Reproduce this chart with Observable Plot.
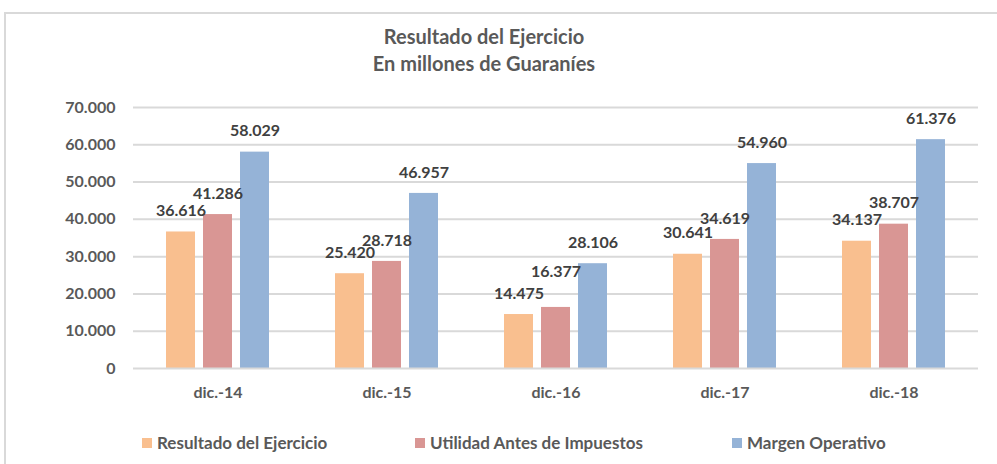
<!DOCTYPE html>
<html>
<head>
<meta charset="utf-8">
<script src="https://cdn.jsdelivr.net/npm/d3@7"></script>
<script src="https://cdn.jsdelivr.net/npm/@observablehq/plot@0.6"></script>
<style>
  html, body { margin: 0; padding: 0; background: #fff; overflow: hidden; width: 997px; height: 464px; }
  body { position: relative; font-family: Lato, "Open Sans", sans-serif; }
  #frame { position: absolute; left: 4px; top: 12px; width: 1100px; height: 500px; border: 2px solid #d9d9d9; box-sizing: border-box; }
  #title { position: absolute; left: 0; top: 23px; width: 968px; text-align: center; font-weight: bold; font-size: 20px; line-height: 27px; color: #595959; }
  #chart { position: absolute; left: 0; top: 80px; }
  .leg { position: absolute; top: 432px; font-size: 17px; font-weight: bold; color: #595959; white-space: nowrap; line-height: 22px; }
  .leg i { display: inline-block; width: 10px; height: 10px; margin-right: 5px; vertical-align: 1px; }
</style>
</head>
<body>
<div id="frame"></div>
<div id="title">Resultado del Ejercicio<br>En millones de Guaraníes</div>
<div id="chart"></div>
<div id="legend"></div>
<script>
const categories = ["dic.-14", "dic.-15", "dic.-16", "dic.-17", "dic.-18"];
const series = ["Resultado del Ejercicio", "Utilidad Antes de Impuestos", "Margen Operativo"];
const resultado = [36616, 25420, 14475, 30641, 34137];
const utilidad = [41286, 28718, 16377, 34619, 38707];
const margen = [58029, 46957, 28106, 54960, 61376];
const yTicks = [0, 10000, 20000, 30000, 40000, 50000, 60000, 70000];
const colors = ["#F9BF8F", "#D99694", "#95B3D7"];
const legendLeft = [142, 415, 732];

const values = [resultado, utilidad, margen];
const data = categories.flatMap((c, i) => series.map((s, j) => ({
  cat: c, series: s, value: values[j][i],
  // label collides with the label of the bar to its left (Excel lifts it)
  lifted: j > 0 && Math.abs(values[j][i] - values[j - 1][i]) < 2500
})));
const fmt = d => d3.format(",")(d).replace(/,/g, ".");
const labelOpts = {fx: "cat", x: "series", y: "value", text: d => fmt(d.value), fill: "#404040", fontSize: 16, fontWeight: "bold", textAnchor: "middle", lineAnchor: "middle"};

const chart = Plot.plot({
  width: 997,
  height: 333,
  marginLeft: 132,
  marginRight: 19,
  marginTop: 27,
  marginBottom: 45,
  style: {fontFamily: "Lato, 'Open Sans', sans-serif", fontSize: "16px", fontWeight: "bold", color: "#595959", background: "transparent"},
  fx: {domain: categories, padding: 0, label: null, axis: "bottom", tickSize: 0, tickPadding: 18},
  x: {domain: series, axis: null, paddingInner: 0.227, paddingOuter: 0.867},
  y: {domain: [0, 70000], ticks: yTicks, tickFormat: fmt, label: null, tickSize: 0, tickPadding: 18},
  color: {domain: series, range: colors},
  marks: [
    Plot.ruleY(yTicks.slice(1), {stroke: "#d9d9d9", strokeWidth: 2}),
    Plot.barY(data, {fx: "cat", x: "series", y: "value", fill: "series"}),
    Plot.ruleY([0], {stroke: "#d9d9d9", strokeWidth: 2}),
    Plot.text(data.filter(d => !d.lifted), {...labelOpts, dy: -21}),
    Plot.text(data.filter(d => d.lifted), {...labelOpts, dy: -36})
  ]
});
document.getElementById("chart").appendChild(chart);

const legend = document.getElementById("legend");
series.forEach((s, j) => {
  const span = document.createElement("span");
  span.className = "leg";
  span.style.left = legendLeft[j] + "px";
  span.innerHTML = `<i style="background:${colors[j]}"></i>${s}`;
  legend.appendChild(span);
});
</script>
</body>
</html>
